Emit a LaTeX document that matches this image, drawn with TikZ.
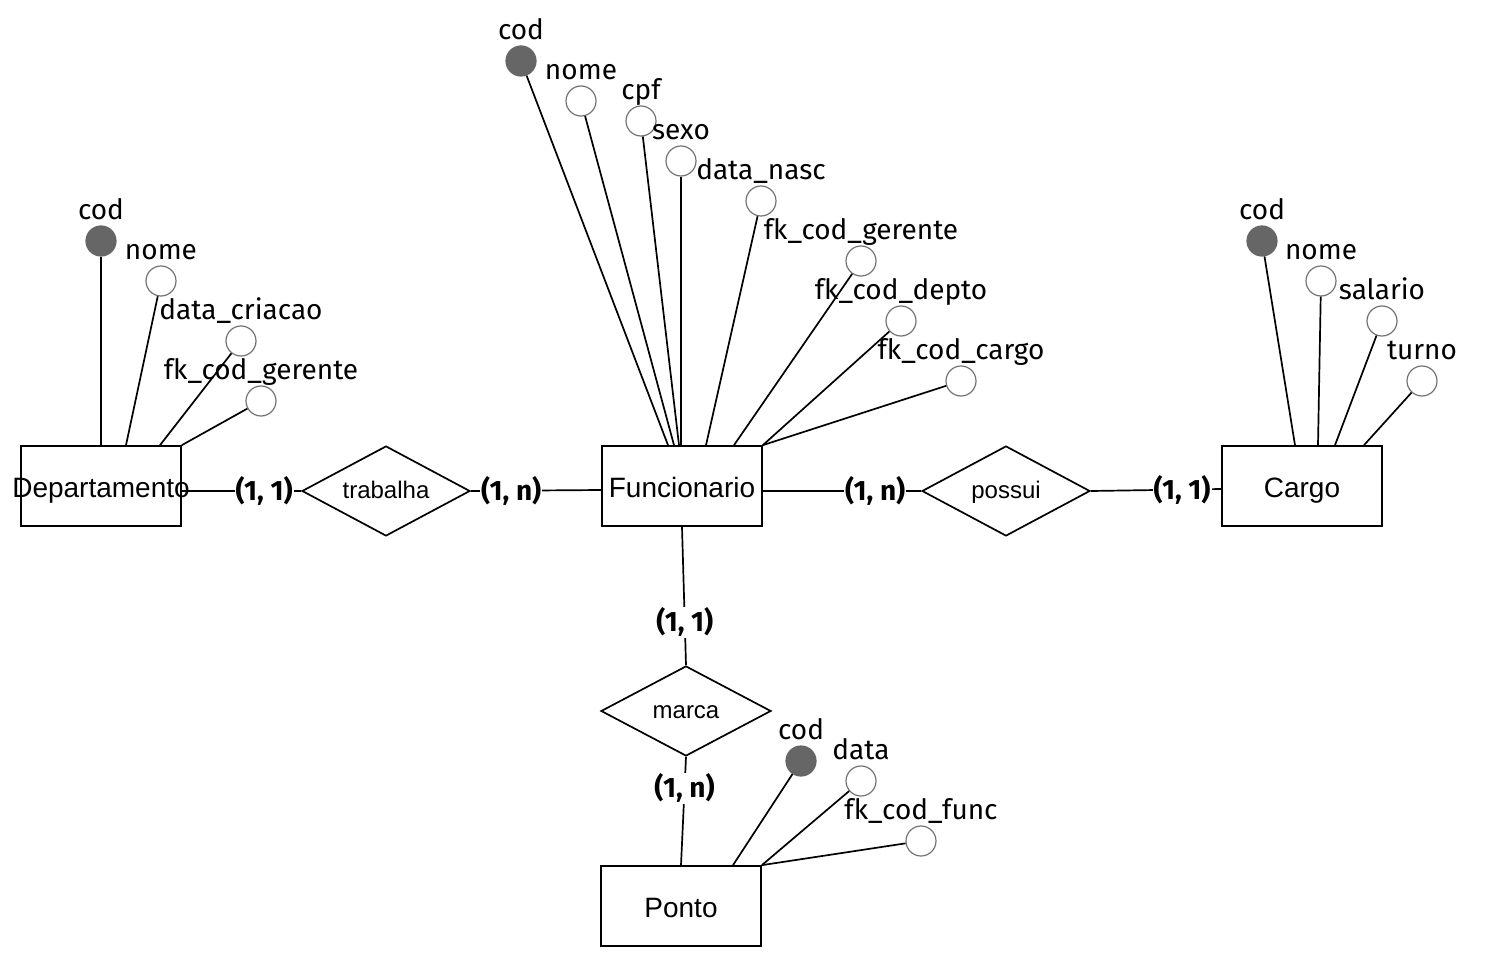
\documentclass[tikz,border=0pt]{standalone}
\usepackage{fontspec}
\setmainfont{Liberation Sans}
\newfontfamily\firafont{Fira Sans}
\usetikzlibrary{shapes.geometric}

\begin{document}
\begin{tikzpicture}[x=1pt, y=-1pt,
entity/.style={rectangle, draw=black, line width=1.7pt, minimum width=160pt, minimum height=80pt, inner sep=0pt, text height=28pt, text depth=6pt, font=\fontsize{28}{32}\selectfont},
relation/.style={diamond, aspect=1.87, draw=black, line width=1.7pt, minimum width=168pt, minimum height=90pt, inner sep=0pt, text height=18pt, text depth=4pt, font=\fontsize{24}{28}\selectfont},
attrlabel/.style={font=\firafont\fontsize{28}{32}\selectfont, inner sep=0pt, text height=20pt, text depth=6pt},
keyattr/.style={circle, fill=black!60, draw=black!60, line width=1.2pt, minimum size=30pt, inner sep=0pt, label={[attrlabel, label distance=0pt]above:#1}},
attr/.style={circle, fill=white, draw=black!55, line width=1.2pt, minimum size=30pt, inner sep=0pt, label={[attrlabel, label distance=0pt]above:#1}},
card/.style={fill=white, inner sep=1pt, font=\firafont\bfseries\fontsize{28}{32}\selectfont},
link/.style={line width=1.7pt},
]
\useasboundingbox (0,0) rectangle (1492,963);

%Nodes
\node[entity]    (dept)     at (101,486) {\makebox[0pt]{Departamento}};
\node[entity]    (func)     at (682,486) {Funcionario};
\node[entity]    (cargo)    at (1302,486) {Cargo};
\node[entity]    (ponto)    at (681,906) {Ponto};
\node[relation]  (trabalha) at (386,491) {trabalha};
\node[relation]  (possui)   at (1006,491) {possui};
\node[relation, minimum width=170pt] (marca) at (686,711) {marca};

%Attributes
\node[keyattr=cod]              (dcod)   at (101,241) {};
\node[attr=nome]                (dnome)  at (161,281) {};
\node[attr=data\_criacao]       (ddata)  at (241,341) {};
\node[attr=fk\_cod\_gerente]    (dger)   at (261,401) {};

\node[keyattr=cod]              (fcod)   at (521,61) {};
\node[attr=nome]                (fnome)  at (581,101) {};
\node[attr=cpf]                 (fcpf)   at (641,121) {};
\node[attr=sexo]                (fsexo)  at (681,161) {};
\node[attr=data\_nasc]          (fnasc)  at (761,201) {};
\node[attr=fk\_cod\_gerente]    (fger)   at (861,261) {};
\node[attr=fk\_cod\_depto]      (fdepto) at (901,321) {};
\node[attr=fk\_cod\_cargo]      (fcargo) at (961,381) {};

\node[keyattr=cod]              (ccod)   at (1262,241) {};
\node[attr=nome]                (cnome)  at (1321,281) {};
\node[attr=salario]             (csal)   at (1382,321) {};
\node[attr=turno]               (cturno) at (1422,381) {};

\node[keyattr=cod]              (pcod)   at (801,761) {};
\node[attr=data]                (pdata)  at (861,781) {};
\node[attr=fk\_cod\_func]       (pfunc)  at (921,841) {};

%Lines
\draw[link] (dcod) -- (dept.north);
\draw[link] (dnome) -- ([xshift=25pt]dept.north);
\draw[link] (ddata) -- ([xshift=59pt]dept.north);
\draw[link] (dger) -- (dept.north east);

\draw[link] (fcod) -- ([xshift=-14pt]func.north);
\draw[link] (fnome) -- ([xshift=-8pt]func.north);
\draw[link] (fcpf) -- ([xshift=-3pt]func.north);
\draw[link] (fsexo) -- ([xshift=-1pt]func.north);
\draw[link] (fnasc) -- ([xshift=24pt]func.north);
\draw[link] (fger) -- ([xshift=52pt]func.north);
\draw[link] (fdepto) -- (func.north east);
\draw[link] (fcargo) -- (func.north east);

\draw[link] (ccod) -- ([xshift=-7pt]cargo.north);
\draw[link] (cnome) -- ([xshift=16pt]cargo.north);
\draw[link] (csal) -- ([xshift=33pt]cargo.north);
\draw[link] (cturno) -- ([xshift=62pt]cargo.north);

\draw[link] (pcod) -- ([xshift=52pt]ponto.north);
\draw[link] (pdata) -- (ponto.north east);
\draw[link] (pfunc) -- (ponto.north east);

\draw[link] ([yshift=-5pt]dept.east) -- node[card, pos=0.69] {(1, 1)} (trabalha.west);
\draw[link] (trabalha.east) -- node[card, pos=0.31] {(1, n)} ([yshift=-4pt]func.west);
\draw[link] ([yshift=-5pt]func.east) -- node[card, pos=0.71] {(1, n)} (possui.west);
\draw[link] (possui.east) -- node[card, pos=0.70] {(1, 1)} ([yshift=-3pt]cargo.west);
\draw[link] (func.south) -- node[card, pos=0.69] {(1, 1)} (marca.north);
\draw[link] (marca.south) -- node[card, pos=0.29] {(1, n)} (ponto.north);

\end{tikzpicture}
\end{document}
